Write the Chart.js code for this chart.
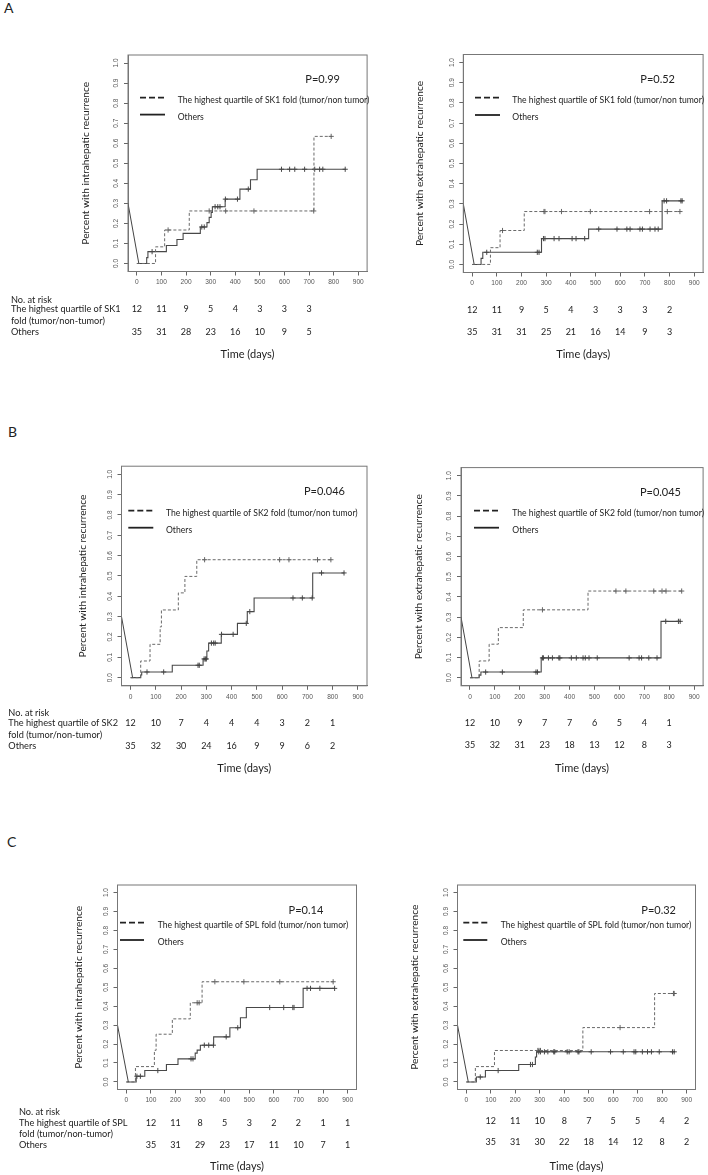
<!DOCTYPE html>
<html>
<head>
<meta charset="utf-8">
<title>Cumulative recurrence by SK1, SK2 and SPL fold</title>
<script src="https://cdn.jsdelivr.net/npm/chart.js@4.4.0/dist/chart.umd.min.js"></script>
<style>
  body { margin: 0; background: #fff; width: 708px; height: 1175px; position: relative; overflow: hidden; font-family: Lato, sans-serif; }
  canvas { position: absolute; }
  .tag { position: absolute; font-size: 14px; line-height: 14px; color: #222; }
</style>
</head>
<body>
<div class="tag" style="left:4px;top:1px">A</div>
<div class="tag" style="left:8px;top:425px">B</div>
<div class="tag" style="left:7px;top:835px">C</div>
<canvas id="a-intra"></canvas>
<canvas id="a-extra"></canvas>
<canvas id="b-intra"></canvas>
<canvas id="b-extra"></canvas>
<canvas id="c-intra"></canvas>
<canvas id="c-extra"></canvas>
<script>
// shared axes
const xTicks = [0, 100, 200, 300, 400, 500, 600, 700, 800, 900];
const yTicks = [0, 0.1, 0.2, 0.3, 0.4, 0.5, 0.6, 0.7, 0.8, 0.9, 1.0];
const yTickLabels = ["0.0", "0.1", "0.2", "0.3", "0.4", "0.5", "0.6", "0.7", "0.8", "0.9", "1.0"];
const startLine = [[-36, 0.3], [8, 0]];
const riskDaysAB = [0, 100, 200, 300, 400, 500, 600, 700, 800];
const riskDaysC = [100, 200, 300, 400, 500, 600, 700, 800, 900];
const genes = ["SK1", "SK2", "SPL"];
const pValues = ["P=0.99", "P=0.52", "P=0.046", "P=0.045", "P=0.14", "P=0.32"];

// A - SK1, intrahepatic
const aIntraHighT = [0, 76, 113, 213, 720, 790];
const aIntraHighY = [0, 0.083, 0.167, 0.262, 0.634, 0.634];
const aIntraHighCens = [127, 294, 361, 476, 719, 790];
const aIntraOtherT = [0, 40, 45, 120, 163, 188, 258, 285, 294, 302, 307, 359, 419, 462, 489, 847];
const aIntraOtherY = [0, 0.029, 0.059, 0.09, 0.12, 0.15, 0.182, 0.204, 0.23, 0.255, 0.283, 0.321, 0.371, 0.418, 0.47, 0.47];
const aIntraOtherCens = [62, 264, 274, 318, 329, 338, 360, 409, 453, 588, 621, 642, 682, 723, 743, 756, 847];
const aIntraRiskHigh = [12, 11, 9, 5, 4, 3, 3, 3];
const aIntraRiskOther = [35, 31, 28, 23, 16, 10, 9, 5];

// A - SK1, extrahepatic
const aExtraHighT = [0, 74, 113, 211, 842];
const aExtraHighY = [0, 0.083, 0.168, 0.262, 0.262];
const aExtraHighCens = [123, 291, 295, 362, 479, 719, 791, 842];
const aExtraOtherT = [0, 36, 43, 281, 472, 770, 851];
const aExtraOtherY = [0, 0.03, 0.06, 0.128, 0.175, 0.315, 0.315];
const aExtraOtherCens = [59, 264, 271, 289, 295, 332, 352, 405, 421, 456, 513, 587, 627, 640, 680, 690, 721, 741, 754, 778, 788, 846, 851];
const aExtraRiskHigh = [12, 11, 9, 5, 4, 3, 3, 3, 2];
const aExtraRiskOther = [35, 31, 31, 25, 21, 16, 14, 9, 3];

// B - SK2, intrahepatic
const bIntraHighT = [0, 40, 77, 117, 122, 189, 215, 262, 793];
const bIntraHighY = [0, 0.082, 0.164, 0.25, 0.333, 0.417, 0.498, 0.58, 0.58];
const bIntraHighCens = [293, 590, 627, 740, 793];
const bIntraOtherT = [0, 40, 44, 165, 287, 302, 309, 359, 423, 462, 489, 721, 845];
const bIntraOtherY = [0, 0.013, 0.028, 0.061, 0.092, 0.131, 0.17, 0.213, 0.267, 0.325, 0.392, 0.515, 0.515];
const bIntraOtherCens = [65, 131, 267, 272, 291, 296, 300, 320, 329, 335, 360, 406, 458, 472, 643, 680, 719, 756, 845];
const bIntraRiskHigh = [12, 10, 7, 4, 4, 4, 3, 2, 1];
const bIntraRiskOther = [35, 32, 30, 24, 16, 9, 9, 6, 2];

// B - SK2, extrahepatic
const bExtraHighT = [0, 37, 77, 114, 214, 474, 850];
const bExtraHighY = [0, 0.083, 0.166, 0.248, 0.336, 0.429, 0.429];
const bExtraHighCens = [291, 586, 626, 738, 771, 787, 850];
const bExtraOtherT = [0, 37, 44, 286, 767, 844];
const bExtraOtherY = [0, 0.013, 0.028, 0.098, 0.279, 0.279];
const bExtraOtherCens = [63, 130, 265, 271, 291, 295, 315, 331, 357, 361, 407, 427, 454, 463, 478, 511, 639, 679, 689, 718, 751, 786, 837, 844];
const bExtraRiskHigh = [12, 10, 9, 7, 7, 6, 5, 4, 1];
const bExtraRiskOther = [35, 32, 31, 23, 18, 13, 12, 8, 3];

// C - SPL, intrahepatic
const cIntraHighT = [0, 37, 114, 121, 187, 260, 308, 841];
const cIntraHighY = [0, 0.081, 0.167, 0.252, 0.333, 0.418, 0.529, 0.529];
const cIntraHighCens = [288, 296, 360, 478, 624, 841];
const cIntraOtherT = [0, 40, 75, 163, 210, 280, 288, 301, 355, 421, 464, 488, 719, 847];
const cIntraOtherY = [0, 0.03, 0.06, 0.092, 0.122, 0.152, 0.168, 0.194, 0.238, 0.286, 0.339, 0.393, 0.494, 0.494];
const cIntraOtherCens = [43, 57, 128, 263, 271, 317, 335, 354, 406, 453, 583, 640, 677, 682, 735, 749, 787, 847];
const cIntraRiskHigh = [12, 11, 8, 5, 3, 2, 2, 1, 1];
const cIntraRiskOther = [35, 31, 29, 23, 17, 11, 10, 7, 1];

// C - SPL, extrahepatic
const cExtraHighT = [0, 37, 115, 476, 769, 849];
const cExtraHighY = [0, 0.081, 0.166, 0.287, 0.467, 0.467];
const cExtraHighCens = [292, 297, 303, 628, 846, 849];
const cExtraOtherT = [0, 41, 78, 214, 282, 287, 849];
const cExtraOtherY = [0, 0.026, 0.06, 0.092, 0.132, 0.159, 0.159];
const cExtraOtherCens = [57, 130, 262, 270, 296, 303, 319, 333, 357, 361, 412, 420, 456, 460, 510, 589, 641, 685, 692, 719, 740, 756, 788, 842, 849];
const cExtraRiskHigh = [12, 11, 10, 8, 7, 5, 5, 4, 2];
const cExtraRiskOther = [35, 31, 30, 22, 18, 14, 12, 8, 2];

// page layout of each panel (pixels)
const panels = [
  { id: "a-intra", gene: 0, p: 0, intra: true, days: riskDaysAB,
    highT: aIntraHighT, highY: aIntraHighY, highCens: aIntraHighCens,
    otherT: aIntraOtherT, otherY: aIntraOtherY, otherCens: aIntraOtherCens,
    riskHigh: aIntraRiskHigh, riskOther: aIntraRiskOther,
    canvas: { x: 0, y: 40, w: 372, h: 330 }, box: { l: 128, t: 55, r: 368, b: 271.5 },
    yTitleX: 85.5, timeY: 354, legend: { x0: 140, x1: 165, tx: 177.7, y1: 97.7, y2: 114.6 },
    pos: { right: 340, y: 79 }, labelX: 11, rows: [300, 309.3, 321, 331.7] },
  { id: "a-extra", gene: 0, p: 1, intra: false, days: riskDaysAB,
    highT: aExtraHighT, highY: aExtraHighY, highCens: aExtraHighCens,
    otherT: aExtraOtherT, otherY: aExtraOtherY, otherCens: aExtraOtherCens,
    riskHigh: aExtraRiskHigh, riskOther: aExtraRiskOther,
    canvas: { x: 372, y: 40, w: 336, h: 330 }, box: { l: 463.3, t: 54.5, r: 705.5, b: 272.5 },
    yTitleX: 420, timeY: 354.3, legend: { x0: 475, x1: 500, tx: 512.3, y1: 97.7, y2: 115 },
    pos: { right: 675, y: 79 }, labelX: null, rows: [null, 310, null, 331.7] },
  { id: "b-intra", gene: 1, p: 2, intra: true, days: riskDaysAB,
    highT: bIntraHighT, highY: bIntraHighY, highCens: bIntraHighCens,
    otherT: bIntraOtherT, otherY: bIntraOtherY, otherCens: bIntraOtherCens,
    riskHigh: bIntraRiskHigh, riskOther: bIntraRiskOther,
    canvas: { x: 0, y: 455, w: 372, h: 330 }, box: { l: 121.5, t: 466.2, r: 367, b: 685.8 },
    yTitleX: 83, timeY: 768.3, legend: { x0: 128.3, x1: 153.3, tx: 166, y1: 510.7, y2: 527.7 },
    pos: { right: 345, y: 491.7 }, labelX: 8.3, rows: [713.3, 723.3, 735, 745.7] },
  { id: "b-extra", gene: 1, p: 3, intra: false, days: riskDaysAB,
    highT: bExtraHighT, highY: bExtraHighY, highCens: bExtraHighCens,
    otherT: bExtraOtherT, otherY: bExtraOtherY, otherCens: bExtraOtherCens,
    riskHigh: bExtraRiskHigh, riskOther: bExtraRiskOther,
    canvas: { x: 372, y: 455, w: 336, h: 330 }, box: { l: 461, t: 467.6, r: 705.5, b: 685.8 },
    yTitleX: 419, timeY: 768.3, legend: { x0: 474, x1: 499, tx: 512.3, y1: 510.7, y2: 527.7 },
    pos: { right: 681, y: 492.3 }, labelX: null, rows: [null, 723.3, null, 745] },
  { id: "c-intra", gene: 2, p: 4, intra: true, days: riskDaysC,
    highT: cIntraHighT, highY: cIntraHighY, highCens: cIntraHighCens,
    otherT: cIntraOtherT, otherY: cIntraOtherY, otherCens: cIntraOtherCens,
    riskHigh: cIntraRiskHigh, riskOther: cIntraRiskOther,
    canvas: { x: 0, y: 870, w: 372, h: 305 }, box: { l: 117.5, t: 885, r: 356.5, b: 1089.5 },
    yTitleX: 78.7, timeY: 1166.7, legend: { x0: 120, x1: 144, tx: 157.7, y1: 922.7, y2: 940 },
    pos: { right: 323.3, y: 910.7 }, labelX: 19, rows: [1112.3, 1123.3, 1134, 1145] },
  { id: "c-extra", gene: 2, p: 5, intra: false, days: riskDaysC,
    highT: cExtraHighT, highY: cExtraHighY, highCens: cExtraHighCens,
    otherT: cExtraOtherT, otherY: cExtraOtherY, otherCens: cExtraOtherCens,
    riskHigh: cExtraRiskHigh, riskOther: cExtraRiskOther,
    canvas: { x: 372, y: 870, w: 336, h: 305 }, box: { l: 457.5, t: 885, r: 695.5, b: 1089.5 },
    yTitleX: 415, timeY: 1166.7, legend: { x0: 463.3, x1: 487.3, tx: 500.7, y1: 922.7, y2: 940 },
    pos: { right: 676, y: 910.7 }, labelX: null, rows: [null, 1120.7, null, 1142.3] },
];

const INK = "#222";
const TEXT_FONT = "Lato, sans-serif";

// value of a step curve at time t
function levelAt(times, vals, t) {
  let v = vals[0];
  for (let i = 0; i < times.length; i++) if (times[i] <= t) v = vals[i];
  return v;
}
const curve = (t, v) => t.map((d, i) => ({ x: d, y: v[i] }));
const marks = (cens, t, v) => cens.map(c => ({ x: c, y: levelAt(t, v, c) }));

function text(ctx, str, x, y, size, align) {
  ctx.font = size + "px " + TEXT_FONT;
  ctx.textAlign = align || "left";
  ctx.textBaseline = "middle";
  ctx.fillText(str, x, y);
}

function makeDecor(p) {
  return {
    id: "kmDecor",
    afterDraw(chart) {
      const { ctx, chartArea: a, scales: { x, y } } = chart;
      const ox = p.canvas.x, oy = p.canvas.y;
      ctx.save();
      // R-style box round the plot
      ctx.strokeStyle = "#777";
      ctx.lineWidth = 1;
      ctx.strokeRect(a.left, a.top, a.right - a.left, a.bottom - a.top);

      // y tick labels, rotated like R's default
      ctx.fillStyle = "#555";
      ctx.font = '6.5px "Liberation Sans"';
      ctx.textAlign = "center";
      ctx.textBaseline = "middle";
      y.ticks.forEach((t, i) => {
        ctx.save();
        ctx.translate(a.left - 11.5, y.getPixelForValue(t.value));
        ctx.rotate(-Math.PI / 2);
        ctx.fillText(yTickLabels[i], 0, 0);
        ctx.restore();
      });

      ctx.fillStyle = INK;
      // p value
      text(ctx, pValues[p.p], p.pos.right - ox, p.pos.y - oy, 11, "right");

      // legend
      const lg = p.legend;
      ctx.strokeStyle = INK;
      ctx.lineWidth = 1.8;
      ctx.setLineDash([6, 3]);
      ctx.beginPath();
      ctx.moveTo(lg.x0 - ox, lg.y1 - oy);
      ctx.lineTo(lg.x1 - ox, lg.y1 - oy);
      ctx.stroke();
      ctx.setLineDash([]);
      ctx.beginPath();
      ctx.moveTo(lg.x0 - ox, lg.y2 - oy);
      ctx.lineTo(lg.x1 - ox, lg.y2 - oy);
      ctx.stroke();
      text(ctx, "The highest quartile of " + genes[p.gene] + " fold (tumor/non tumor)", lg.tx - ox, lg.y1 + 2.5 - oy, 8.6);
      text(ctx, "Others", lg.tx - ox, lg.y2 + 2.7 - oy, 8.6);

      // number at risk
      if (p.labelX !== null) {
        const lx = p.labelX - ox;
        text(ctx, "No. at risk", lx, p.rows[0] - oy, 9.2);
        text(ctx, "The highest quartile of " + genes[p.gene], lx, p.rows[1] - oy, 9.2);
        text(ctx, "fold (tumor/non-tumor)", lx, p.rows[2] - oy, 9.2);
        text(ctx, "Others", lx, p.rows[3] - oy, 9.2);
      }
      p.riskHigh.forEach((n, i) => {
        text(ctx, String(n), x.getPixelForValue(p.days[i]), p.rows[1] - oy, 9, "center");
      });
      p.riskOther.forEach((n, i) => {
        text(ctx, String(n), x.getPixelForValue(p.days[i]), p.rows[3] - oy, 9, "center");
      });
      ctx.restore();
    }
  };
}

function buildPanel(p) {
  const el = document.getElementById(p.id);
  el.width = p.canvas.w;
  el.height = p.canvas.h;
  el.style.left = p.canvas.x + "px";
  el.style.top = p.canvas.y + "px";

  const titleSize = 10.2;
  const timeSize = 11;
  const axisStyle = {
    grid: { display: true, drawOnChartArea: false, drawTicks: true, tickLength: 4, color: "#666" },
    border: { display: true, color: "#777" },
  };

  return new Chart(el, {
    type: "line",
    data: {
      datasets: [
        { data: curve(startLine.map(s => s[0]), startLine.map(s => s[1])),
          borderColor: "#444", borderWidth: 1, pointRadius: 0 },
        { data: curve(p.highT, p.highY), stepped: true,
          borderColor: "#6a6a6a", borderWidth: 1, borderDash: [3, 2], pointRadius: 0 },
        { data: curve(p.otherT, p.otherY), stepped: true,
          borderColor: "#484848", borderWidth: 1.1, pointRadius: 0 },
        { data: marks(p.highCens, p.highT, p.highY), showLine: false,
          pointStyle: "cross", pointRadius: 2.6, borderColor: "#555", borderWidth: 0.9 },
        { data: marks(p.otherCens, p.otherT, p.otherY), showLine: false,
          pointStyle: "cross", pointRadius: 2.6, borderColor: "#333", borderWidth: 0.9 },
      ]
    },
    options: {
      responsive: false,
      animation: false,
      devicePixelRatio: 1,
      events: [],
      layout: {
        padding: {
          left: 0,
          top: p.box.t - p.canvas.y,
          right: p.canvas.x + p.canvas.w - p.box.r,
          bottom: 0
        }
      },
      plugins: { legend: { display: false }, tooltip: { enabled: false } },
      scales: {
        x: {
          type: "linear",
          min: -36,
          max: 936,
          afterBuildTicks: s => { s.ticks = xTicks.map(v => ({ value: v })); },
          afterFit: s => { s.height = p.canvas.y + p.canvas.h - p.box.b; },
          ticks: { font: { family: "Liberation Sans", size: 6.6 }, color: "#555", padding: 3, maxRotation: 0, autoSkip: false },
          title: {
            display: true,
            text: "Time (days)",
            color: INK,
            font: { family: TEXT_FONT, size: timeSize },
            padding: { top: 0, bottom: p.canvas.y + p.canvas.h - p.timeY - timeSize * 0.6 }
          },
          ...axisStyle
        },
        y: {
          min: -0.04,
          max: 1.04,
          afterBuildTicks: s => { s.ticks = yTicks.map(v => ({ value: v })); },
          afterFit: s => { s.width = p.box.l - p.canvas.x; },
          ticks: { display: false },
          title: {
            display: true,
            text: p.intra ? "Percent with intrahepatic recurrence" : "Percent with extrahepatic recurrence",
            color: INK,
            font: { family: TEXT_FONT, size: titleSize },
            padding: { top: p.yTitleX - p.canvas.x - titleSize * 0.6, bottom: 0 }
          },
          ...axisStyle
        }
      }
    },
    plugins: [makeDecor(p)]
  });
}

panels.forEach(buildPanel);
</script>
</body>
</html>
